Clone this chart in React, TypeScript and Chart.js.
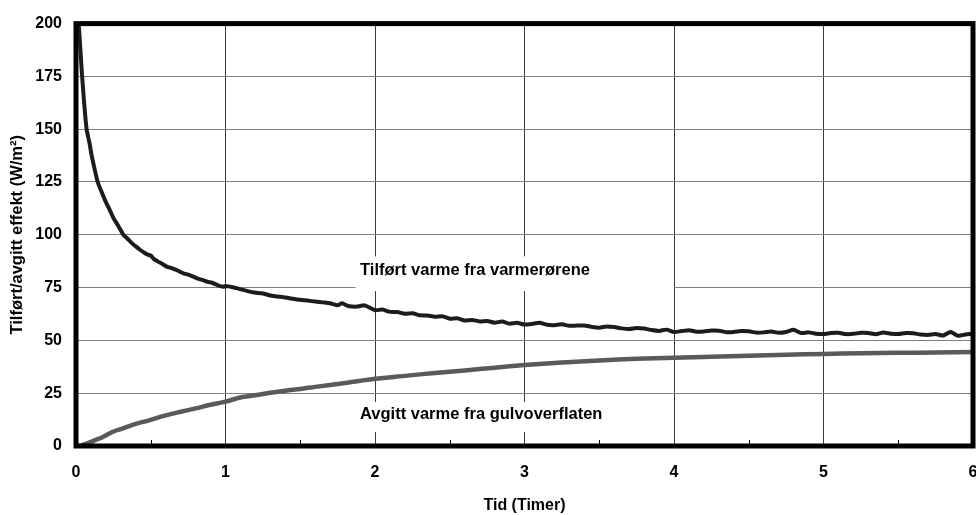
import React, { useEffect, useRef } from "react";
import { Chart, registerables } from "chart.js";

Chart.register(...registerables);

// Heat supplied from the heating pipes (black curve): time in hours, W/m²
const suppliedTime = [
  0, 0.01, 0.02, 0.03, 0.04, 0.055, 0.071, 0.09, 0.105, 0.125, 0.145, 0.17, 0.2, 0.227, 0.25, 0.28,
  0.317, 0.34, 0.37, 0.4, 0.43, 0.46, 0.48, 0.5, 0.52, 0.55, 0.58, 0.607, 0.64, 0.68, 0.717, 0.75,
  0.78, 0.82, 0.85, 0.88, 0.91, 0.95, 0.985, 1.0, 1.05, 1.1, 1.18, 1.25, 1.3, 1.4, 1.5, 1.6, 1.65,
  1.7, 1.75, 1.78, 1.82, 1.88, 1.93,
  2.0, 2.05, 2.1, 2.15, 2.2, 2.25, 2.3, 2.35, 2.4, 2.45, 2.5, 2.55, 2.6, 2.65, 2.7, 2.75, 2.8, 2.85,
  2.9, 2.95, 3.0, 3.05, 3.1, 3.15, 3.2, 3.25, 3.3, 3.35, 3.4, 3.45, 3.5, 3.55, 3.6, 3.65, 3.7, 3.75,
  3.8, 3.85, 3.9, 3.95, 4.0, 4.05, 4.1, 4.15, 4.2, 4.25, 4.3, 4.35, 4.4, 4.45, 4.5, 4.55, 4.6, 4.65,
  4.7, 4.75, 4.8, 4.85, 4.9, 4.95, 5.0, 5.05, 5.1, 5.15, 5.2, 5.25, 5.3, 5.35, 5.4, 5.45, 5.5, 5.55,
  5.6, 5.65, 5.7, 5.75, 5.8, 5.85, 5.9, 5.95, 6.0,
];
const suppliedValues = [
  215, 207, 198, 187, 176, 162, 150, 143.5, 137.5, 131, 125, 120.5, 115.5, 111.6, 108, 104.5,
  100, 98.5, 96.3, 94.5, 92.8, 91.4, 90.6, 90.2, 88.6, 87.3, 86.1, 84.9, 84.2, 83.1, 81.8, 81.1,
  80.3, 79.1, 78.5, 77.7, 77.3, 76.1, 75.4, 75.8, 75.2, 74.2, 72.8, 72.2, 71.3, 70.3, 69.2, 68.4, 68.0,
  67.6, 66.6, 67.6, 66.3, 66.0, 66.6,
  64.3, 64.6, 63.5, 63.4, 62.6, 62.9, 61.9, 61.8, 61.2, 61.4, 60.3, 60.5, 59.4, 59.7, 59.0, 59.2, 58.4, 58.9,
  57.9, 58.3, 57.5, 57.8, 58.3, 57.4, 57.2, 57.6, 56.9, 57.0, 57.1, 56.4, 56.0, 56.6, 56.3, 55.7, 55.4, 55.9,
  55.6, 54.9, 54.5, 55.1, 54.0, 54.4, 54.8, 54.1, 54.2, 54.7, 54.6, 53.9, 54.0, 54.5, 54.3, 53.7, 53.8, 54.2,
  53.6, 54.0, 55.0, 53.5, 53.8, 53.2, 53.0, 53.5, 53.6, 53.0, 53.1, 53.6, 53.5, 52.9, 53.7, 53.2, 53.0, 53.5,
  53.4, 52.8, 52.6, 53.0, 52.3, 54.0, 52.2, 52.8, 53.3,
];

// Heat emitted from the floor surface (grey curve)
const emittedTime = [
  0, 0.03, 0.06, 0.1, 0.14, 0.18, 0.22, 0.26, 0.3, 0.35, 0.4, 0.45, 0.5, 0.6, 0.7, 0.8, 0.9, 1.0, 1.1,
  1.2, 1.3, 1.4, 1.5, 1.6, 1.8, 2.0, 2.2, 2.4, 2.6, 2.8, 3.0, 3.25, 3.5, 3.75, 4.0, 4.25, 4.5,
  4.75, 5.0, 5.25, 5.5, 5.75, 6.0,
];
const emittedValues = [
  0, 0.2, 0.9, 2.0, 3.1, 4.3, 5.8, 7.1, 8.0, 9.3, 10.5, 11.4, 12.4, 14.5, 16.2, 17.8, 19.5, 21, 23.0,
  24, 25.2, 26.2, 27, 28, 29.8, 31.8, 33.2, 34.6, 35.8, 37.1, 38.3, 39.5, 40.5, 41.3, 41.8, 42.3, 42.7,
  43.2, 43.6, 43.9, 44.1, 44.3, 44.5,
];

const xMin = 0;
const xMax = 6;
const yMin = 0;
const yMax = 200;
const yStep = 25;
const minorTickHours = [0.5, 1.5, 2.5, 3.5, 4.5, 5.5];

const labelSupplied = "Tilført varme fra varmerørene";
const labelEmitted = "Avgitt varme fra gulvoverflaten";
const xTitle = "Tid (Timer)";
const yTitle = "Tilført/avgitt effekt (W/m²)";

const FONT = "'Liberation Sans', Arial, Helvetica, sans-serif";

const decorPlugin = {
  id: "decor",
  beforeDatasetsDraw(chart: any) {
    const { ctx, scales } = chart;
    const xs = scales.x;
    const ys = scales.y;
    const boxes = [
      { text: labelSupplied, x0: 1.87, x1: 4.0, y0: 89.8, y1: 73.3, ty: 83.2 },
      { text: labelEmitted, x0: 1.87, x1: 3.6, y0: 20.8, y1: 6.6, ty: 15.0 },
    ];
    ctx.save();
    for (const b of boxes) {
      const l = xs.getPixelForValue(b.x0);
      const r = xs.getPixelForValue(b.x1);
      const t = ys.getPixelForValue(b.y0);
      const bt = ys.getPixelForValue(b.y1);
      ctx.fillStyle = "#ffffff";
      ctx.fillRect(l, t, r - l, bt - t);
      ctx.fillStyle = "#000000";
      ctx.font = `bold 16.5px ${FONT}`;
      ctx.textAlign = "left";
      ctx.textBaseline = "middle";
      ctx.fillText(b.text, xs.getPixelForValue(1.9), ys.getPixelForValue(b.ty));
    }
    ctx.restore();
  },
  afterDatasetsDraw(chart: any) {
    const { ctx, chartArea, scales } = chart;
    const xs = scales.x;
    ctx.save();
    ctx.strokeStyle = "#000";
    ctx.lineWidth = 1;
    for (const h of minorTickHours) {
      const px = Math.round(xs.getPixelForValue(h)) + 0.5;
      ctx.beginPath();
      ctx.moveTo(px, chartArea.bottom);
      ctx.lineTo(px, chartArea.bottom - 6);
      ctx.stroke();
    }
    ctx.lineWidth = 5;
    ctx.strokeStyle = "#000";
    ctx.strokeRect(
      chartArea.left,
      chartArea.top,
      chartArea.right - chartArea.left,
      chartArea.bottom - chartArea.top
    );
    ctx.restore();
  },
};

export default function App() {
  const canvasRef = useRef<HTMLCanvasElement | null>(null);

  useEffect(() => {
    if (!canvasRef.current) return;
    const chart = new Chart(canvasRef.current, {
      type: "line",
      data: {
        datasets: [
          {
            label: labelSupplied,
            data: suppliedTime.map((t, i) => ({ x: t, y: suppliedValues[i] })),
            borderColor: "#1c1c1c",
            borderWidth: 4,
            pointRadius: 0,
            tension: 0.2,
            fill: false,
          },
          {
            label: labelEmitted,
            data: emittedTime.map((t, i) => ({ x: t, y: emittedValues[i] })),
            borderColor: "#5a5a5a",
            borderWidth: 4.5,
            pointRadius: 0,
            tension: 0.3,
            fill: false,
          },
        ],
      },
      options: {
        animation: false,
        responsive: false,
        maintainAspectRatio: false,
        devicePixelRatio: 1,
        layout: { padding: { top: 23, right: 3, left: 0, bottom: 0 } },
        plugins: {
          legend: { display: false },
          tooltip: { enabled: false },
          title: { display: false },
        },
        scales: {
          x: {
            type: "linear",
            min: xMin,
            max: xMax,
            border: { display: false },
            grid: { color: "#3a3a3a", lineWidth: 1, drawTicks: false },
            ticks: {
              stepSize: 1,
              padding: 17,
              color: "#000",
              font: { family: FONT, size: 16, weight: "bold" },
              maxRotation: 0,
            },
            title: {
              display: true,
              text: xTitle,
              color: "#000",
              font: { family: FONT, size: 16, weight: "bold" },
              padding: { top: 0, bottom: 0 },
            },
            afterFit(scale: any) {
              scale.height = 69;
              scale.paddingLeft = 0;
              scale.paddingRight = 0;
            },
          },
          y: {
            type: "linear",
            min: yMin,
            max: yMax,
            border: { display: false },
            grid: { color: "#808080", lineWidth: 1, drawTicks: false },
            ticks: {
              stepSize: yStep,
              padding: 14,
              color: "#000",
              font: { family: FONT, size: 16, weight: "bold" },
            },
            title: {
              display: true,
              text: yTitle,
              color: "#000",
              font: { family: FONT, size: 16.5, weight: "bold" },
              padding: { top: 8, bottom: 0 },
            },
            afterFit(scale: any) {
              scale.width = 76;
            },
          },
        },
      },
      plugins: [decorPlugin],
    });
    return () => chart.destroy();
  }, []);

  return (
    <div style={{ position: "fixed", left: 0, top: 0, width: 976, height: 515, background: "#fff" }}>
      <canvas ref={canvasRef} width={976} height={515} style={{ width: 976, height: 515 }} />
    </div>
  );
}
